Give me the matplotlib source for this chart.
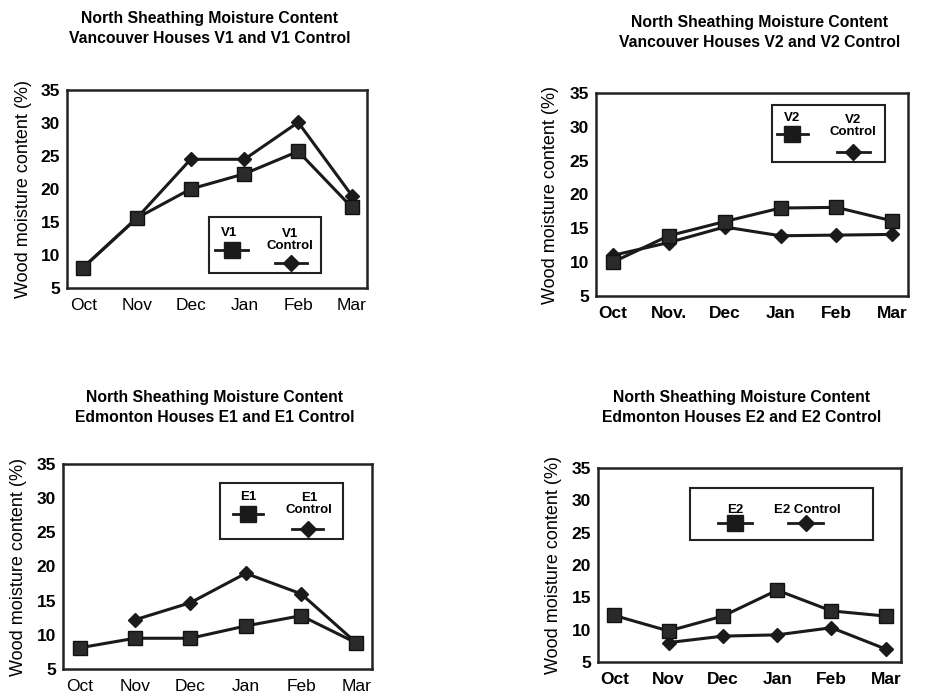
import matplotlib
matplotlib.use("Agg")
import matplotlib.pyplot as plt
from matplotlib.patches import Rectangle

plt.rcParams['font.family'] = ['Liberation Sans', 'DejaVu Sans']

months = ['Oct', 'Nov', 'Dec', 'Jan', 'Feb', 'Mar']
x2_labels = ['Oct', 'Nov.', 'Dec', 'Jan', 'Feb', 'Mar']

v1 = [8.1, 15.6, 20.0, 22.3, 25.7, 17.2]
v1_control = [8.1, 15.6, 24.5, 24.5, 30.1, 19.0]
v2 = [10.0, 13.9, 16.0, 18.0, 18.1, 16.1]
v2_control = [11.0, 12.9, 15.2, 13.9, 14.0, 14.1]
e1 = [8.1, 9.5, 9.5, 11.3, 12.8, 8.8]
e1_control = [None, 12.2, 14.7, 19.0, 16.0, 8.8]
e2 = [12.2, 9.8, 12.1, 16.1, 12.9, 12.1]
e2_control = [None, 8.0, 9.0, 9.2, 10.3, 7.0]

W, H = 931, 699
fig = plt.figure(figsize=(W / 100, H / 100), dpi=100)
fig.patch.set_facecolor('white')


def px_axes(l, t, r, b):
    return fig.add_axes([l / W, 1 - b / H, (r - l) / W, (b - t) / H])


def panel(box, labels, s1, s2, xbold, title, tx, ty):
    ax = px_axes(*box)
    xs = range(len(months))
    p1 = [(x, y) for x, y in zip(xs, s1) if y is not None]
    p2 = [(x, y) for x, y in zip(xs, s2) if y is not None]
    ax.plot([p[0] for p in p2], [p[1] for p in p2], color='#1a1a1a', lw=2.2,
            marker='D', ms=7.5, mfc='#1a1a1a', mec='#1a1a1a')
    ax.plot([p[0] for p in p1], [p[1] for p in p1], color='#1a1a1a', lw=2.2,
            marker='s', ms=10.5, mfc='#2a2a2a', mec='#111111')
    ax.set_ylim(5, 35)
    ax.set_yticks(range(5, 40, 5))
    ax.set_xlim(-0.3, 5.28)
    ax.set_xticks(list(xs))
    ax.set_xticklabels(labels, fontsize=12.5,
                       fontweight='bold' if xbold else 'normal')
    for t in ax.get_yticklabels():
        t.set_fontweight('bold')
        t.set_fontsize(12.5)
    ax.tick_params(length=0)
    ax.tick_params(axis='x', pad=7)
    ax.tick_params(axis='y', pad=5)
    for sp in ax.spines.values():
        sp.set_linewidth(1.8)
        sp.set_color('#222222')
    ax.set_ylabel('Wood moisture content (%)', fontsize=13)
    ax.yaxis.set_label_coords(-0.118, 0.5)
    fig.text(tx / W, 1 - ty / H, title, ha='center', va='top',
             fontsize=11.3, fontweight='bold', linespacing=1.45)
    return ax


def key(ax, box, frame, entries):
    # frame and entries given in figure pixels, converted to axes fraction
    l, t, r, b = box

    def fx(x):
        return (x - l) / (r - l)

    def fy(y):
        return (b - y) / (b - t)

    fl, ft, fr, fb = frame
    ax.add_patch(Rectangle((fx(fl), fy(fb)), fx(fr) - fx(fl), fy(ft) - fy(fb),
                           transform=ax.transAxes, fill=False, lw=1.5,
                           ec='#222222', zorder=5))
    for text, tx, ty, mk, x0, x1, my in entries:
        ax.text(fx(tx), fy(ty), text, transform=ax.transAxes, ha='center',
                va='center', fontsize=9.5, fontweight='bold',
                linespacing=1.05, zorder=6)
        ms = 11 if mk == 's' else 8
        ax.plot([fx(x0), fx(x1)], [fy(my), fy(my)], transform=ax.transAxes,
                color='#1a1a1a', lw=2, zorder=6)
        ax.plot([(fx(x0) + fx(x1)) / 2], [fy(my)], transform=ax.transAxes,
                marker=mk, ms=ms, color='#1a1a1a', zorder=7)


b1 = (67, 90, 367, 288)
a1 = panel(b1, months, v1, v1_control, False,
           'North Sheathing Moisture Content\nVancouver Houses V1 and V1 Control',
           210, 11)
key(a1, b1, (209, 217, 321, 273),
    [('V1', 229, 233, 's', 215, 248, 250),
     ('V1\nControl', 290, 240, 'D', 275, 307, 263)])

b2 = (596, 93, 908, 296)
a2 = panel(b2, x2_labels, v2, v2_control, True,
           'North Sheathing Moisture Content\nVancouver Houses V2 and V2 Control',
           760, 15)
key(a2, b2, (772, 105, 885, 162),
    [('V2', 792, 118, 's', 777, 808, 134),
     ('V2\nControl', 853, 126, 'D', 837, 870, 152)])

b3 = (63, 464, 372, 669)
a3 = panel(b3, months, e1, e1_control, False,
           'North Sheathing Moisture Content\nEdmonton Houses E1 and E1 Control',
           215, 390)
key(a3, b3, (220, 483, 343, 539),
    [('E1', 248, 497, 's', 233, 263, 514),
     ('E1\nControl', 309, 504, 'D', 292, 323, 529)])

b4 = (598, 468, 901, 662)
a4 = panel(b4, months, e2, e2_control, True,
           'North Sheathing Moisture Content\nEdmonton Houses E2 and E2 Control',
           742, 390)
key(a4, b4, (690, 488, 873, 540),
    [('E2', 735, 510, 's', 718, 752, 523),
     ('E2 Control', 807, 510, 'D', 788, 823, 523)])

fig.savefig('out.png', dpi=100, facecolor='white')
